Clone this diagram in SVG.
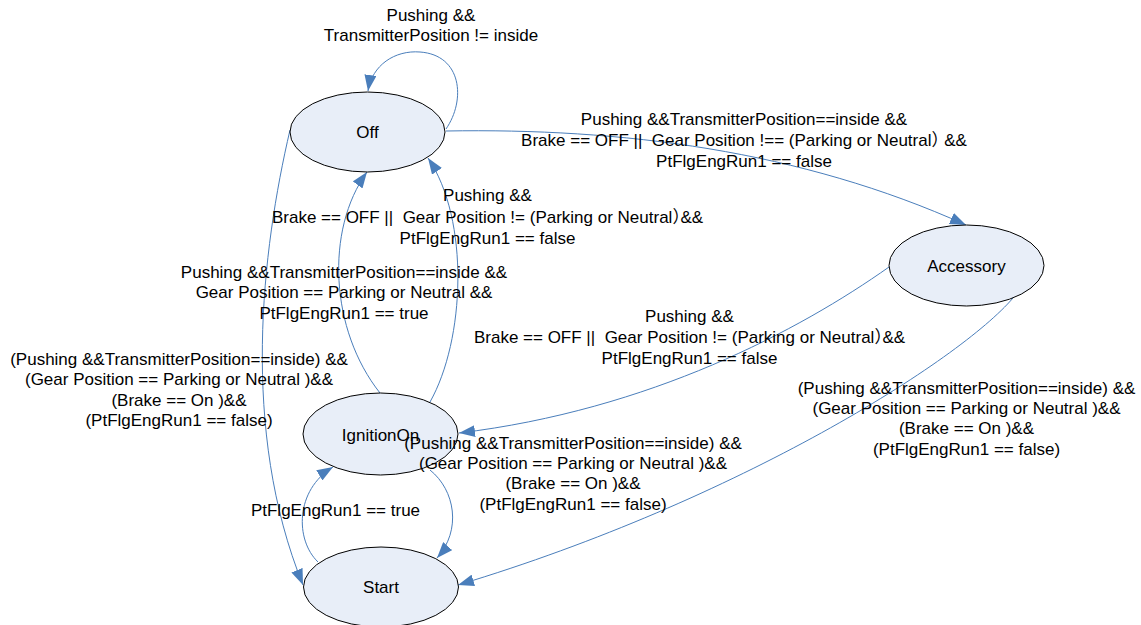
<svg xmlns="http://www.w3.org/2000/svg" width="1141" height="625" viewBox="0 0 1141 625">
<style>
.bg{fill:#ffffff}
.node{fill:#e8eef8;stroke:#000000;stroke-width:1}
.edge{fill:none;stroke:#4a7ebb;stroke-width:1}
text{font-family:"Liberation Sans","Noto Sans CJK SC",Arial,sans-serif;font-size:17px;fill:#000000;text-anchor:middle;white-space:pre}
.fw{letter-spacing:-9px}
</style>
<defs>
<marker id="arr" markerUnits="userSpaceOnUse" markerWidth="16" markerHeight="12" refX="16" refY="6" orient="auto">
<path d="M0,0 L16,6 L0,12 z" fill="#4a7ebb"/>
</marker>
</defs>
<rect class="bg" x="0" y="0" width="1141" height="625"/>
<g id="connectors">
<path id="e-off-self" class="edge" marker-end="url(#arr)" d="M446,129 C466,100 462,55 420,52 C395,50 372,65 368,91"/>
<path id="e-off-acc" class="edge" marker-end="url(#arr)" d="M446,131 C620,128 800,150 966,225"/>
<path id="e-off-start" class="edge" marker-end="url(#arr)" d="M290,130 C262,250 240,430 303,585"/>
<path id="e-ign-off-l" class="edge" marker-end="url(#arr)" d="M380,393 C330,330 325,230 367,172"/>
<path id="e-ign-off-r" class="edge" marker-end="url(#arr)" d="M430,402 C465,340 470,220 428,158"/>
<path id="e-acc-ign" class="edge" marker-end="url(#arr)" d="M889,267 C800,330 650,410 459,433"/>
<path id="e-acc-start" class="edge" marker-end="url(#arr)" d="M1013,298 C960,360 740,500 458,585"/>
<path id="e-ign-start" class="edge" marker-end="url(#arr)" d="M430,470 C455,490 462,530 437,558"/>
<path id="e-start-ign" class="edge" marker-end="url(#arr)" d="M318,562 C295,540 295,490 333,467"/>
</g>
<g id="labels">
<text x="431" y="21">Pushing &amp;&amp;</text>
<text x="431" y="41">TransmitterPosition != inside</text>
<text x="744" y="125">Pushing &amp;&amp;TransmitterPosition==inside &amp;&amp;</text>
<text x="744" y="146">Brake == OFF ||  Gear Position !== (Parking or Neutral<tspan class="fw">）</tspan> &amp;&amp;</text>
<text x="744" y="167">PtFlgEngRun1 == false</text>
<text x="487.5" y="201">Pushing &amp;&amp;</text>
<text x="487.5" y="223">Brake == OFF ||  Gear Position != (Parking or Neutral<tspan class="fw">）</tspan>&amp;&amp;</text>
<text x="487.5" y="244">PtFlgEngRun1 == false</text>
<text x="344" y="278">Pushing &amp;&amp;TransmitterPosition==inside &amp;&amp;</text>
<text x="344" y="298">Gear Position == Parking or Neutral &amp;&amp;</text>
<text x="344" y="319">PtFlgEngRun1 == true</text>
<text x="689.5" y="322">Pushing &amp;&amp;</text>
<text x="689.5" y="343">Brake == OFF ||  Gear Position != (Parking or Neutral<tspan class="fw">）</tspan>&amp;&amp;</text>
<text x="689.5" y="364">PtFlgEngRun1 == false</text>
<text x="179" y="365">(Pushing &amp;&amp;TransmitterPosition==inside) &amp;&amp;</text>
<text x="179" y="385">(Gear Position == Parking or Neutral )&amp;&amp;</text>
<text x="179" y="406">(Brake == On )&amp;&amp;</text>
<text x="179" y="426">(PtFlgEngRun1 == false)</text>
<text x="966.5" y="394">(Pushing &amp;&amp;TransmitterPosition==inside) &amp;&amp;</text>
<text x="966.5" y="414">(Gear Position == Parking or Neutral )&amp;&amp;</text>
<text x="966.5" y="434">(Brake == On )&amp;&amp;</text>
<text x="966.5" y="455">(PtFlgEngRun1 == false)</text>
<text x="335.5" y="516">PtFlgEngRun1 == true</text>
</g>
<g id="node-off">
<ellipse class="node" cx="367.5" cy="132" rx="77.5" ry="40"/>
<text x="367.5" y="138">Off</text>
</g>
<g id="node-accessory">
<ellipse class="node" cx="966.5" cy="265.5" rx="77.5" ry="40.5"/>
<text x="966.5" y="272">Accessory</text>
</g>
<g id="node-ignitionon">
<ellipse class="node" cx="380.5" cy="434" rx="77.5" ry="41"/>
<text x="380.5" y="441">IgnitionOn</text>
</g>
<g id="label-ign-start">
<text x="573" y="449">(Pushing &amp;&amp;TransmitterPosition==inside) &amp;&amp;</text>
<text x="573" y="469">(Gear Position == Parking or Neutral )&amp;&amp;</text>
<text x="573" y="489">(Brake == On )&amp;&amp;</text>
<text x="573" y="510">(PtFlgEngRun1 == false)</text>
</g>
<g id="node-start">
<ellipse class="node" cx="381" cy="587" rx="77.5" ry="40"/>
<text x="381" y="593">Start</text>
</g>
</svg>
